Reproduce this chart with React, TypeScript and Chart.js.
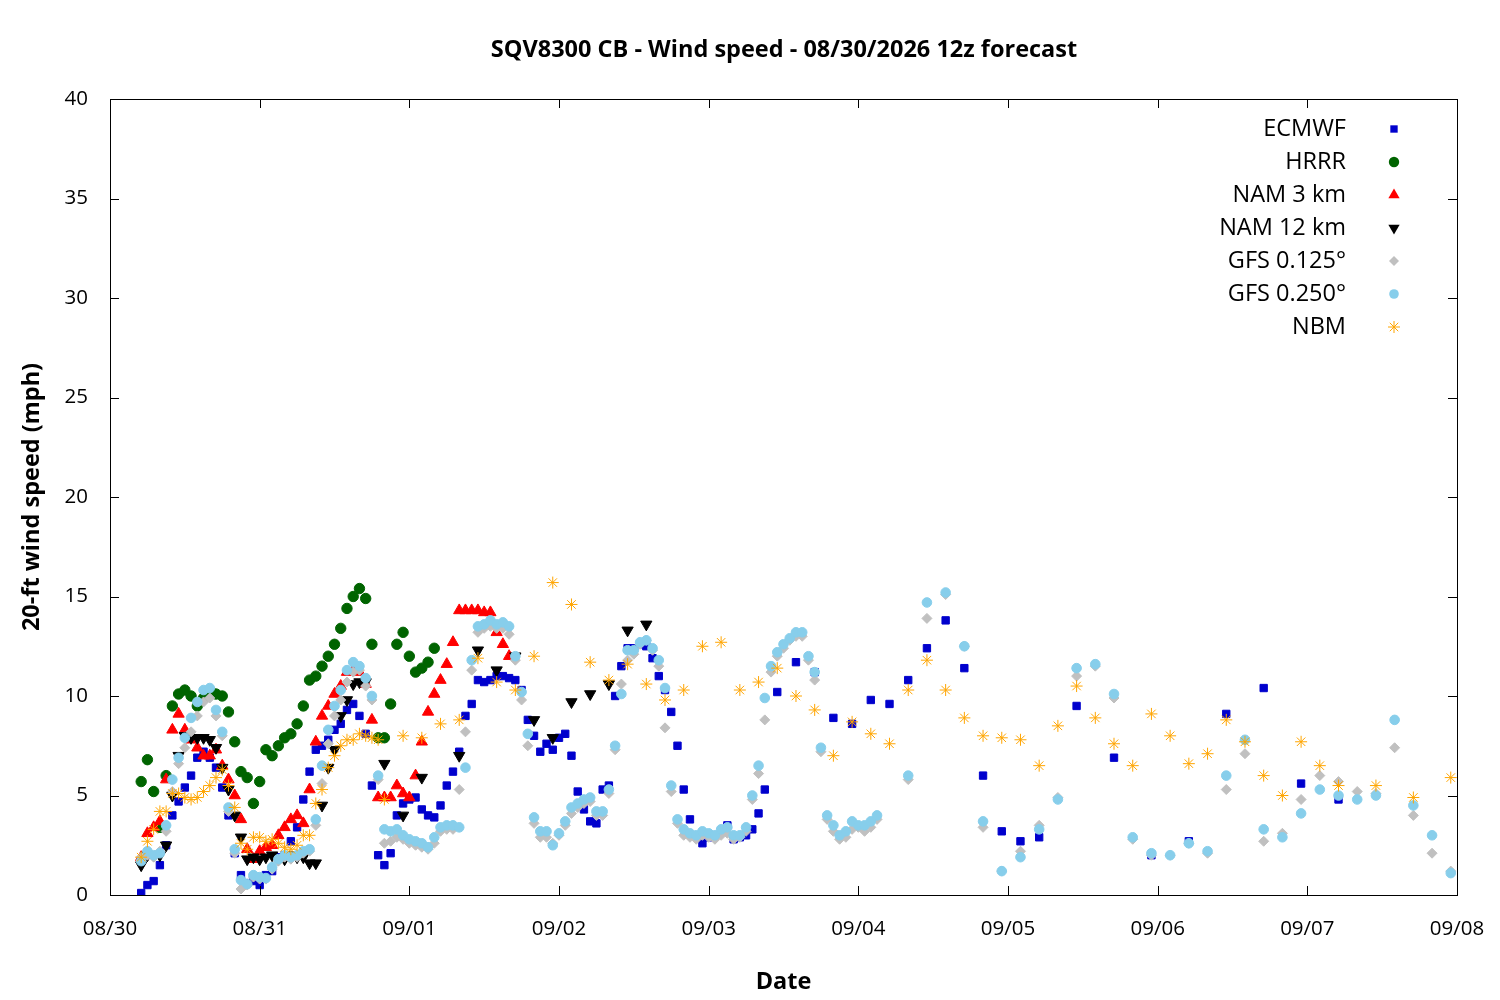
import React, { useEffect, useRef } from "react";
import { Chart, registerables } from "chart.js";
Chart.register(...registerables);

const dateLabels = ["08/30", "08/31", "09/01", "09/02", "09/03", "09/04", "09/05", "09/06", "09/07", "09/08"];
const seriesNames = ["ECMWF", "HRRR", "NAM 3 km", "NAM 12 km", "GFS 0.125°", "GFS 0.250°", "NBM"];

// hours since 08/30 00 local; hourly / 3-hourly / 6-hourly segments
const ecmwfHourly = [0.1,0.5,0.7,1.5,2.5,4,4.7,5.4,6,6.9,7.2,6.9,6.4,5.4,4,2.1,1,0.6,0.7,0.5,1,1.2,1.9,2,2.7,3.4,4.8,6.2,7.3,7.5,7.8,8.3,8.6,9.3,9.6,9,8.1,5.5,2,1.5,2.1,4,4.6,4.8,4.9,4.3,4,3.9,4.5,5.5,6.2,7.2,9,9.6,10.8,10.7,10.8,11,11,10.9,10.8,10.3,8.8,8,7.2,7.6,7.3,7.9,8.1,7,5.2,4.3,3.7,3.6,5.3,5.5,10,11.5,12.4,12.4,12.6,12.5,11.9,11,10.3,9.2,7.5,5.3,3.8,3,2.6,2.9,3,3.2,3.5,2.8,2.9,3,3.3,4.1,5.3];
const ecmwf3h = [10.2,11.7,11.2,8.9,8.6,9.8,9.6,10.8,12.4,13.8,11.4,6,3.2,2.7,2.9];
const ecmwf6h = [9.5,6.9,2.0,2.7,9.1,10.4,5.6,4.8];
const hrrrHourly = [5.7,6.8,5.2,3.4,6,9.5,10.1,10.3,10,9.5,9.9,10.3,10.1,10,9.2,7.7,6.2,5.9,4.6,5.7,7.3,7,7.5,7.9,8.1,8.6,9.5,10.8,11,11.5,12,12.6,13.4,14.4,15,15.4,14.9,12.6,7.9,7.9,9.6,12.6,13.2,12,11.2,11.4,11.7,12.4];
const nam3Hourly = [1.9,3.1,3.4,3.7,5.8,8.3,9.1,8.3,7.8,7.4,7,7,7.3,6.5,5.8,5,3.8,2.3,1.8,2.2,2.4,2.5,3,3.4,3.8,4,3.6,5.3,7.7,9,9.5,10.1,10.5,11.2,11.3,11.2,10.6,8.8,4.9,4.9,4.9,5.5,5.1,4.9,6,7.7,9.2,10.1,10.8,11.6,12.7,14.3,14.3,14.3,14.3,14.2,14.2,13.2,12.6,12];
const nam12Hourly = [1.5,2,2,2,2.5,5,7,8,7.9,7.9,7.9,7.8,7.4,6.4,5.3,4,2.9,1.8,1.9,1.8,1.9,2,1.8,1.8,2,1.9,1.9,1.6,1.6,4.5,6.4,7.3,9,9.8,10.6,10.7,10.7];
const nam12_3h = [6.6,4,5.9,null,7,12.3,11.3,12,8.8,7.9,9.7,10.1,10.6,13.3,13.6];
const gfs025Hourly = [1.7,2.2,2,2.1,3.5,5.8,6.9,7.9,8.9,9.7,10.3,10.4,9.3,8.2,4.4,2.3,0.75,0.55,1,0.9,0.85,1.4,1.8,2,1.9,2,2.2,2.3,3.8,6.5,8.3,9.5,10.3,11.3,11.7,11.5,10.9,10,6,3.3,3.2,3.3,3,2.8,2.7,2.6,2.4,2.9,3.4,3.5,3.5,3.4,6.4,11.8,13.5,13.6,13.8,13.6,13.7,13.5,12,10.2,8.1,3.9,3.2,3.2,2.5,3.1,3.7,4.4,4.6,4.8,4.9,4.2,4.2,5.3,7.5,10.1,12.3,12.3,12.7,12.8,12.4,11.8,10.4,5.5,3.8,3.3,3.1,3,3.2,3.1,3,3.3,3.4,3,3,3.4,5,6.5,9.9,11.5,12.2,12.6,12.9,13.2,13.2,12,11.2,7.4,4,3.5,3,3.2,3.7,3.5,3.5,3.7,4];
const gfs025_3h = [6,14.7,15.2,12.5,3.7,1.2,1.9,3.3,4.8,11.4,11.6,10.1,2.9,2.1,2,2.6,2.2,6,7.8,3.3,2.9,4.1,5.3,5,4.8,5,8.8,4.5,3,1.1];
const gfs0125Hourly = [1.9,2.0,1.9,2.2,3.2,5.2,6.6,7.4,8.2,9.0,9.7,9.9,9.0,8.0,4.2,2.1,0.3,0.5,0.9,0.8,0.8,1.3,1.7,1.9,1.8,1.9,2.1,2.2,3.5,5.6,7.6,9.0,9.8,10.7,11.2,11.3,10.5,9.8,5.8,2.6,2.7,2.9,2.8,2.6,2.5,2.4,2.3,2.6,3.2,3.3,3.3,5.3,8.2,11.3,13.2,13.4,13.5,13.4,13.4,13.1,11.8,9.8,7.5,3.6,2.9,2.9,2.6,3.0,3.5,4.1,4.4,4.6,4.7,4.0,4.0,5.1,7.3,10.6,11.8,12.1,12.6,12.8,12.3,11.5,8.4,5.2,3.6,3.0,2.9,2.8,3.0,2.9,2.8,3.0,3.1,2.8,2.9,3.2,4.8,6.1,8.8,11.2,12.0,12.4,12.8,13.0,13.0,11.8,10.8,7.2,3.8,3.2,2.8,2.9,3.3,3.4,3.2,3.4,3.8];
const gfs0125_3h = [5.8,13.9,15.1,12.5,3.4,1.2,2.2,3.5,4.9,11,11.5,9.9,2.8,2,2,2.6,2.1,5.3,7.1,2.7,3.1,4.8,6,5.7,5.2,5.1,7.4,4,2.1,1.2];
const nbmHourly = [1.9,2.7,3.3,4.2,4.2,5.1,5.1,4.9,4.8,4.9,5.2,5.5,5.9,6.3,5.5,4.4,2.6,2.3,2.9,2.9,2.7,2.8,2.6,2.4,2.3,2.5,3,3,4.6,5.3,6.4,7,7.5,7.8,7.8,8.1,8,7.9,7.8];
const nbm3h = [4.8,8,7.9,8.6,8.8,11.9,10.7,10.3,12,15.7,14.6,11.7,10.8,11.6,10.6,9.8,10.3,12.5,12.7,10.3,10.7,11.4,10,9.3,7,8.7,8.1,7.6,10.3,11.8,10.3,8.9,8,7.9,7.8,6.5,8.5,10.5,8.9,7.6,6.5,9.1,8,6.6,7.1,8.8,7.7,6,5,7.7,6.5,5.5,null,5.5,null,4.9,null,5.9];

type P = { x: number; y: number | null };
function seg(start: number, step: number, vals: (number | null)[]): P[] {
  return vals.map((v, i) => ({ x: start + i * step, y: v }));
}

const styles = [
  { color: "#0000cd", style: "rect", r: 5.2 },
  { color: "#006400", style: "circle", r: 5.2 },
  { color: "#ff0000", style: "triangle", r: 6.5 },
  { color: "#000000", style: "triangle", r: 6.5, rot: 180 },
  { color: "#c0c0c0", style: "rectRot", r: 5 },
  { color: "#87ceeb", style: "circle", r: 4.8 },
  { color: "#ffa500", style: "star", r: 6 },
];

export default function App() {
  const ref = useRef<HTMLCanvasElement>(null);
  useEffect(() => {
    document.body.style.margin = "0";
    const data = [
      [...seg(5, 1, ecmwfHourly), ...seg(107, 3, ecmwf3h), ...seg(155, 6, ecmwf6h)],
      seg(5, 1, hrrrHourly),
      seg(5, 1, nam3Hourly),
      [...seg(5, 1, nam12Hourly), ...seg(44, 3, nam12_3h)],
      [...seg(5, 1, gfs0125Hourly), ...seg(128, 3, gfs0125_3h)],
      [...seg(5, 1, gfs025Hourly), ...seg(128, 3, gfs025_3h)],
      [...seg(5, 1, nbmHourly), ...seg(44, 3, nbm3h)],
    ];
    const font = "'Open Sans', 'DejaVu Sans', sans-serif";
    const frame = {
      id: "frame",
      afterDraw(c: any) {
        const { ctx, chartArea: a, scales } = c;
        ctx.save();
        ctx.strokeStyle = "#000";
        ctx.lineWidth = 1;
        ctx.strokeRect(a.left + 0.5, a.top + 0.5, a.right - a.left, a.bottom - a.top);
        ctx.beginPath();
        for (let v = 0; v <= 216; v += 24) {
          const x = Math.round(scales.x.getPixelForValue(v)) + 0.5;
          ctx.moveTo(x, a.bottom); ctx.lineTo(x, a.bottom - 9);
          ctx.moveTo(x, a.top); ctx.lineTo(x, a.top + 9);
        }
        for (let v = 0; v <= 40; v += 5) {
          const y = Math.round(scales.y.getPixelForValue(v)) + 0.5;
          ctx.moveTo(a.left, y); ctx.lineTo(a.left + 9, y);
          ctx.moveTo(a.right, y); ctx.lineTo(a.right - 9, y);
        }
        ctx.stroke();
        ctx.fillStyle = "#000";
        ctx.font = `bold 23.5px ${font}`;
        ctx.textAlign = "center";
        ctx.textBaseline = "middle";
        ctx.fillText("SQV8300 CB - Wind speed - 08/30/2026 12z forecast", 784, 50);
        ctx.font = `23.5px ${font}`;
        ctx.textAlign = "right";
        seriesNames.forEach((n, i) => {
          const y = 129 + i * 33;
          ctx.fillStyle = "#000";
          ctx.fillText(n, 1346, y);
          const s: any = styles[i];
          ctx.fillStyle = s.color;
          ctx.strokeStyle = s.color;
          drawPointFn(ctx, { pointStyle: s.style, radius: s.r, rotation: s.rot || 0 }, 1394, y);
        });
        ctx.restore();
      },
    };
    const chart = new Chart(ref.current!, {
      type: "scatter",
      data: {
        datasets: data.map((d, i) => ({
          label: seriesNames[i],
          data: d as any,
          pointStyle: styles[i].style as any,
          pointRadius: styles[i].r,
          pointRotation: (styles[i] as any).rot || 0,
          backgroundColor: styles[i].color,
          borderColor: styles[i].color,
          borderWidth: 1,
          order: 7 - i,
        })),
      },
      options: {
        animation: false,
        responsive: false,
        layout: { padding: { top: 99, right: 43, left: 14, bottom: 0 } },
        plugins: { legend: { display: false }, tooltip: { enabled: false } },
        scales: {
          x: {
            type: "linear", min: 0, max: 216,
            grid: { display: false }, border: { display: false },
            afterBuildTicks: (s: any) => { s.ticks = dateLabels.map((_, i) => ({ value: i * 24 })); },
            ticks: { color: "#000", font: { size: 20.5, family: font }, padding: 14, maxRotation: 0,
              callback: (v: any) => dateLabels[Math.round(Number(v) / 24)] },
            title: { display: true, text: "Date", color: "#000", font: { size: 23.5, weight: "bold", family: font }, padding: { top: 8 } },
            afterFit: (s: any) => { s.height = 105; },
          },
          y: {
            min: 0, max: 40,
            grid: { display: false }, border: { display: false },
            ticks: { stepSize: 5, color: "#000", font: { size: 20.5, family: font }, padding: 14 },
            title: { display: true, text: "20-ft wind speed (mph)", color: "#000", font: { size: 23.5, weight: "bold", family: font }, padding: { bottom: 4 } },
            afterFit: (s: any) => { s.width = 96; },
          },
        },
      },
      plugins: [frame],
    });
    return () => chart.destroy();
  }, []);
  return <canvas ref={ref} width={1500} height={1000} style={{ display: "block", width: 1500, height: 1000 }} />;
}

function drawPointFn(ctx: CanvasRenderingContext2D, o: any, x: number, y: number) {
  const r = o.radius;
  ctx.save();
  ctx.translate(x, y);
  ctx.rotate((o.rotation * Math.PI) / 180);
  ctx.beginPath();
  switch (o.pointStyle) {
    case "rect": ctx.rect(-r * 0.707, -r * 0.707, r * 1.414, r * 1.414); ctx.fill(); break;
    case "circle": ctx.arc(0, 0, r, 0, Math.PI * 2); ctx.fill(); break;
    case "rectRot": ctx.moveTo(0, -r); ctx.lineTo(r, 0); ctx.lineTo(0, r); ctx.lineTo(-r, 0); ctx.closePath(); ctx.fill(); break;
    case "triangle":
      ctx.moveTo(0, -r); ctx.lineTo(r * 0.866, r * 0.5); ctx.lineTo(-r * 0.866, r * 0.5); ctx.closePath(); ctx.fill(); break;
    case "star":
      for (let k = 0; k < 4; k++) {
        const a = (k * Math.PI) / 4;
        ctx.moveTo(Math.cos(a) * r, Math.sin(a) * r);
        ctx.lineTo(-Math.cos(a) * r, -Math.sin(a) * r);
      }
      ctx.lineWidth = 1; ctx.stroke(); break;
  }
  ctx.restore();
}
